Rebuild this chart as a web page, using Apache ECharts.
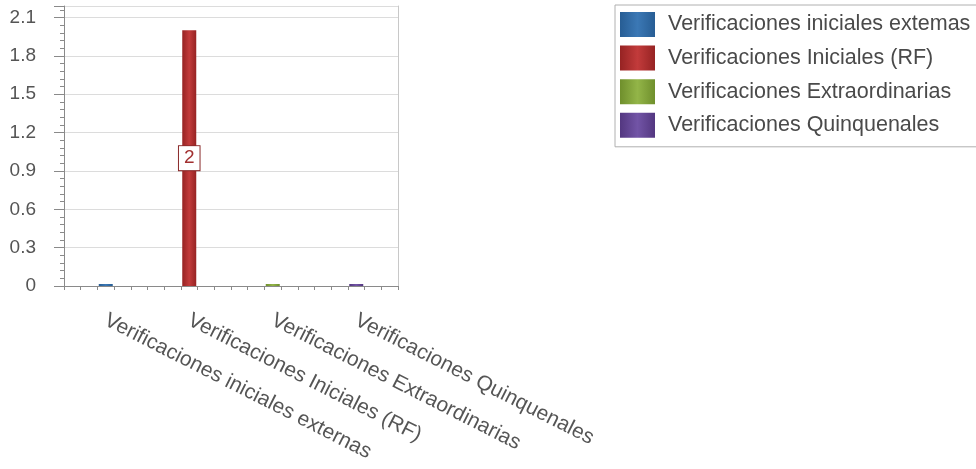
<!DOCTYPE html>
<html>
<head>
<meta charset="utf-8">
<script src="https://cdn.jsdelivr.net/npm/echarts@6/dist/echarts.min.js"></script>
<style>
html,body{margin:0;padding:0;background:#fff;}
#chart{width:976px;height:469px;}
</style>
</head>
<body>
<div id="chart"></div>
<script>
const categories = ['Verificaciones iniciales externas', 'Verificaciones Iniciales (RF)', 'Verificaciones Extraordinarias', 'Verificaciones Quinquenales'];
const seriesNames = ['Verificaciones iniciales extemas', 'Verificaciones Iniciales (RF)', 'Verificaciones Extraordinarias', 'Verificaciones Quinquenales'];
const values = [0, 2, 0, 0];
const yTicks = [0, 0.3, 0.6, 0.9, 1.2, 1.5, 1.8, 2.1];

const colors = [
  ['#275d94', '#3b78b5', '#275d94'],
  ['#962323', '#c23b3b', '#962323'],
  ['#6f8f2c', '#93b548', '#6f8f2c'],
  ['#533780', '#7254a6', '#533780']
];
const FONT = 'Liberation Sans';

function grad(c) {
  return new echarts.graphic.LinearGradient(0, 0, 1, 0, [
    {offset: 0, color: c[0]}, {offset: 0.5, color: c[1]}, {offset: 1, color: c[2]}
  ]);
}

const series = seriesNames.map((name, i) => ({
  name: name,
  type: 'bar',
  stack: 'all',
  xAxisIndex: 0,
  yAxisIndex: 0,
  barWidth: 14,
  barMinHeight: 2,
  itemStyle: {color: grad(colors[i])},
  data: categories.map((c, j) => {
    if (j !== i) return '-';
    if (values[i] > 0) {
      return {
        value: values[i],
        label: {
          show: true, position: 'inside', color: '#a23030',
          fontFamily: FONT, fontSize: 19,
          backgroundColor: '#fff', borderColor: '#8a2a2a', borderWidth: 1,
          padding: [3, 5, 2, 5]
        }
      };
    }
    return values[i];
  })
}));

const chart = echarts.init(document.getElementById('chart'));
chart.setOption({
  animation: false,
  backgroundColor: '#fff',
  grid: {left: 64, right: 578, top: 6, bottom: 183, containLabel: false},
  legend: {
    orient: 'vertical', left: 615, top: 5,
    data: seriesNames,
    icon: 'rect', itemWidth: 35, itemHeight: 25, itemGap: 8.6,
    borderColor: '#b0b0b0', borderWidth: 1,
    padding: [7, 30, 9, 5],
    textStyle: {fontFamily: FONT, fontSize: 21.5, color: '#4a4a4a', padding: [0, 0, 0, 8]},
    selectedMode: false
  },
  xAxis: [
    {
      type: 'category', data: categories,
      axisLine: {onZero: false, lineStyle: {color: '#8a8a8a'}},
      axisTick: {alignWithLabel: true, length: 8, lineStyle: {color: '#8a8a8a'}},
      axisLabel: {rotate: -27, margin: 33, fontFamily: FONT, fontSize: 21, color: '#555', interval: 0},
      splitLine: {show: false}
    },
    {
      type: 'value', position: 'bottom', min: -0.5, max: 19.5, interval: 1,
      axisLine: {show: false, onZero: false},
      axisTick: {show: true, length: 4, lineStyle: {color: '#8a8a8a'}},
      axisLabel: {show: false},
      splitLine: {show: false}
    }
  ],
  yAxis: [
    {
      type: 'value', min: 0, max: 2.19, interval: 0.3,
      axisLine: {show: true, onZero: false, lineStyle: {color: '#8a8a8a'}},
      axisTick: {show: true, length: 10, lineStyle: {color: '#8a8a8a'}},
      minorTick: {show: true, splitNumber: 5, length: 4, lineStyle: {color: '#8a8a8a'}},
      axisLabel: {margin: 28, fontFamily: FONT, fontSize: 19, color: '#555', showMaxLabel: false,
        formatter: v => (yTicks.some(t => Math.abs(t - v) < 1e-9) ? String(Math.round(v * 10) / 10) : '')},
      splitLine: {show: true, lineStyle: {color: '#dcdcdc'}}
    },
    {
      type: 'value', position: 'right', min: 0, max: 2.19,
      axisLine: {show: true, onZero: false, lineStyle: {color: '#c8c8c8'}},
      axisTick: {show: false}, axisLabel: {show: false}, splitLine: {show: false}
    }
  ],
  series: series
});
</script>
</body>
</html>
